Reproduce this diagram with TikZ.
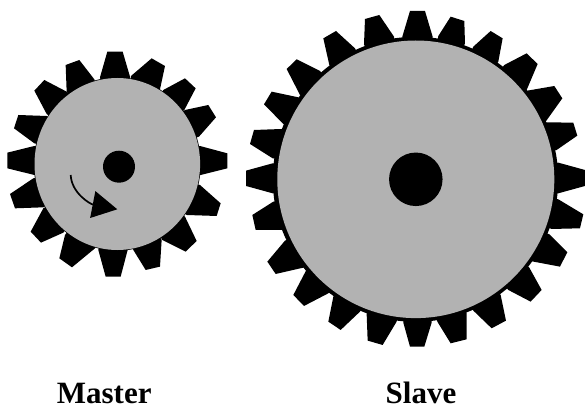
\documentclass[tikz,border=0pt]{standalone}
\usepackage{fontspec}
\setmainfont{Liberation Serif}
\usetikzlibrary{arrows.meta}
\begin{document}
\begin{tikzpicture}[
    x=1pt, y=-1pt,
    body/.style={fill=black!30},
    rim/.style={fill=black},
    hub/.style={circle, fill=black, minimum size=#1, inner sep=0pt},
    tooth/.style={fill=black},
    caption/.style={font=\bfseries\fontsize{31}{31}\selectfont, anchor=base, inner sep=0pt},
    turn/.style={-{Triangle[length=25pt, width=27pt]}, line width=1.7pt},
]
\useasboundingbox (0,0) rectangle (585,406);

% Master teeth, traced at 3x
\begin{scope}[shift={(0,40)}, x=0.3333pt, y=-0.3333pt]
\foreach \ax/\ay/\bx/\by/\cx/\cy/\ex/\ey in {
    600/318/682/340/682/385/602/405, 555/210/625/195/648/232/597/290,
    490/150/555/115/587/145/553/210, 393/108/455/55/495/78/480/148,
    300/112/322/35/368/35/390/110, 200/155/197/75/238/60/283/118,
    140/222/103/152/133/120/200/155, 103/310/42/265/55/225/140/228,
    103/318/22/338/22/385/103/405, 100/415/30/462/45/505/130/502,
    130/505/92/575/123/608/190/578, 195/585/178/655/216/682/285/625,
    295/630/317/710/362/710/383/630, 400/630/437/690/480/680/485/600,
    487/600/557/635/590/603/555/530, 560/525/650/528/662/490/600/435}
  \fill[tooth] (\ax,\ay) -- (\bx,\by) -- (\cx,\cy) -- (\ex,\ey) -- (352,372) -- cycle;
\end{scope}

% Slave teeth, traced at 3x
\begin{scope}[shift={(240,0)}, x=0.3333pt, y=-0.3333pt]
\foreach \ax/\ay/\bx/\by/\cx/\cy/\ex/\ey in {
    487/110/510/33/555/33/578/110, 595/108/632/50/673/63/675/130,
    700/140/752/93/788/115/775/185, 793/195/860/160/893/192/860/270,
    862/272/943/258/967/295/917/365, 920/367/1000/368/1012/407/950/450,
    955/488/1035/510/1035/558/955/580, 955/598/1030/643/1020/685/935/687,
    928/703/982/757/960/800/870/783, 868/803/905/870/872/905/805/870,
    782/885/798/962/755/985/700/932, 680/940/680/1018/632/1030/592/965,
    575/968/553/1040/510/1040/490/968, 470/965/428/1035/383/1022/380/942,
    360/935/302/990/265/965/280/890, 265/880/192/918/160/885/198/812,
    190/803/107/822/82/785/135/722, 127/690/47/690/37/645/100/605,
    98/580/18/558/18/512/98/490, 98/475/30/432/42/390/125/387,
    130/372/72/313/95/275/175/292, 180/285/140/207/170/178/240/213,
    268/195/250/115/288/93/345/145, 372/133/375/57/418/45/462/110}
  \fill[tooth] (\ax,\ay) -- (\bx,\by) -- (\cx,\cy) -- (\ex,\ey) -- (527,538) -- cycle;
\end{scope}

% Gear bodies
\fill[rim] (117.3,164) ellipse (83.5 and 86.7);
\fill[body] (117.3,164) ellipse (82.8 and 86);
\node[hub=32pt] (masterhub) at (119,166.7) {};
\fill[rim] (415.5,179.3) ellipse (142.7 and 142.5);
\fill[body] (415.8,179.3) ellipse (138.5 and 138.8);
\node[hub=53.5pt] (slavehub) at (415.8,179.3) {};

% Rotation arrow
\coordinate (turnstart) at (70.7,175);
\coordinate (turnend) at (117.3,209.3);
\draw[turn] (turnstart) .. controls (71.5,193) and (90,204) .. (turnend);

% Labels
\node[caption] (master) at (104.2,403) {Master};
\node[caption] (slave) at (421,403) {Slave};
\end{tikzpicture}
\end{document}
